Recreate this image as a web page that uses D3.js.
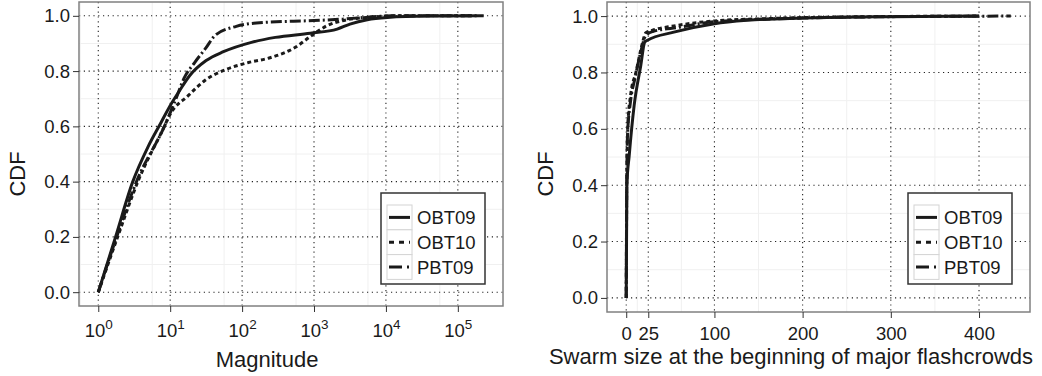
<!DOCTYPE html>
<html>
<head>
<meta charset="utf-8">
<script src="https://cdn.jsdelivr.net/npm/d3@7"></script>
<style>
  body { margin: 0; background: #fff; }
  text { font-family: "Liberation Sans", Arial, Helvetica, sans-serif; fill: #1a1a1a; }
</style>
</head>
<body>
<div id="chart"></div>
<script>
// series names + line styles
let seriesNames = ["OBT09", "OBT10", "PBT09"];

// left panel: magnitude (log x) vs CDF
let magOBT09 = [1, 1.74, 3.02, 4.9, 7.5, 9.8, 13.5, 18.6, 31.6, 55, 135, 290, 890, 2100, 3160, 5500, 10500, 38000, 229000];
let cdfMagOBT09 = [0, 0.2, 0.4, 0.525, 0.615, 0.671, 0.729, 0.783, 0.838, 0.87, 0.904, 0.922, 0.937, 0.952, 0.97, 0.986, 0.994, 0.999, 1.0];
let magOBT10 = [1, 1.86, 3.55, 8.3, 9.8, 17.8, 30, 63, 123, 250, 550, 890, 1510, 2880, 5500, 15800, 160000];
let cdfMagOBT10 = [0, 0.2, 0.4, 0.6, 0.64, 0.711, 0.765, 0.808, 0.831, 0.849, 0.886, 0.925, 0.964, 0.986, 0.994, 1.0, 1.0];
let magPBT09 = [1, 1.8, 3.4, 8.3, 11.5, 15.8, 21.9, 31.6, 41.7, 83, 158, 1000, 2500, 4470, 12600, 200000];
let cdfMagPBT09 = [0, 0.2, 0.4, 0.6, 0.687, 0.777, 0.831, 0.885, 0.928, 0.962, 0.974, 0.983, 0.988, 0.993, 1.0, 1.0];

// right panel: swarm size vs CDF
let swarmOBT09 = [0, 0.7, 3.4, 9, 16.5, 21, 24, 54, 100, 137, 200, 300, 400];
let cdfSwarmOBT09 = [0, 0.4, 0.506, 0.683, 0.825, 0.908, 0.914, 0.943, 0.973, 0.985, 0.993, 0.998, 1.0];
let swarmOBT10 = [0, 0.5, 1, 2, 5, 11, 18, 22, 30, 54, 100, 150, 250, 400];
let cdfSwarmOBT10 = [0, 0.35, 0.5, 0.62, 0.72, 0.8, 0.9, 0.94, 0.95, 0.965, 0.983, 0.99, 0.997, 1.0];
let swarmPBT09 = [0, 0.6, 1.5, 5, 10, 17, 22, 30, 60, 100, 200, 300, 436];
let cdfSwarmPBT09 = [0, 0.4, 0.58, 0.7, 0.78, 0.88, 0.93, 0.945, 0.96, 0.98, 0.993, 0.998, 1.0];

// ticks
let yTicks = [0, 0.2, 0.4, 0.6, 0.8, 1.0];
let yMinor = [0.1, 0.3, 0.5, 0.7, 0.9];
let magTicks = [1, 10, 100, 1000, 10000, 100000];
let magExps = ["0", "1", "2", "3", "4", "5"];
let magMinor = [-0.25, 0.75, 1.75, 2.75, 3.75, 4.75].map(e => Math.pow(10, e));
let swarmTicks = [0, 25, 100, 200, 300, 400];
let swarmMinor = [12.5, 62.5, 150, 250, 350];

let dashes = { OBT09: null, OBT10: "4,3", PBT09: "11,3,2,3" };

let svgWidth = 1042;
let svgHeight = 376;

let svg = d3.select("#chart")
  .append("svg")
  .attr("width", svgWidth)
  .attr("height", svgHeight);

function drawPanel(p) {
  let width = p.x1 - p.x0;
  let height = p.y1 - p.y0;

  let g = svg.append("g")
    .attr("transform", `translate(${p.x0}, ${p.y0})`);

  let x = p.xScale.range([0, width]);
  let y = d3.scaleLinear().domain([-0.05, 1.05]).range([height, 0]);

  // minor grid
  g.selectAll(".vminor").data(p.minor).enter().append("line")
    .attr("x1", d => x(d)).attr("x2", d => x(d))
    .attr("y1", 0).attr("y2", height)
    .attr("stroke", "#f0f0f0").attr("stroke-width", 1);
  g.selectAll(".hminor").data(yMinor).enter().append("line")
    .attr("x1", 0).attr("x2", width)
    .attr("y1", d => y(d)).attr("y2", d => y(d))
    .attr("stroke", "#f0f0f0").attr("stroke-width", 1);

  // major grid, dotted
  g.selectAll(".vmajor").data(p.ticks).enter().append("line")
    .attr("x1", d => x(d)).attr("x2", d => x(d))
    .attr("y1", 0).attr("y2", height)
    .attr("stroke", "#222").attr("stroke-width", 1.1)
    .attr("stroke-dasharray", "1.2,3.6");
  g.selectAll(".hmajor").data(yTicks).enter().append("line")
    .attr("x1", 0).attr("x2", width)
    .attr("y1", d => y(d)).attr("y2", d => y(d))
    .attr("stroke", "#222").attr("stroke-width", 1.1)
    .attr("stroke-dasharray", "1.2,3.6");

  // curves
  let line = d3.line()
    .x(d => x(d[0]))
    .y(d => y(d[1]))
    .curve(d3.curveMonotoneX);

  p.series.forEach((s, i) => {
    let pts = s.xs.map((v, j) => [v, s.cdf[j]]);
    g.append("path")
      .datum(pts)
      .attr("fill", "none")
      .attr("stroke", "#1a1a1a")
      .attr("stroke-width", 3)
      .attr("stroke-dasharray", dashes[seriesNames[i]])
      .attr("d", line);
  });

  // panel border
  g.append("rect")
    .attr("width", width).attr("height", height)
    .attr("fill", "none")
    .attr("stroke", "#808080").attr("stroke-width", 1.5);

  // axes
  let leftAxis = d3.axisLeft(y).tickValues(yTicks).tickSize(6).tickPadding(3)
    .tickFormat(d3.format(".1f"));
  let ly = g.append("g").call(leftAxis);
  ly.select(".domain").remove();
  ly.selectAll("line").attr("stroke", "#333");
  ly.selectAll("text").attr("font-size", "18.5px").attr("fill", "#1a1a1a");

  let bottomAxis = d3.axisBottom(x).tickValues(p.ticks).tickSize(6).tickPadding(p.tickPad)
    .tickFormat(p.fmt ? () => "" : d => d);
  let bx = g.append("g").attr("transform", `translate(0, ${height})`).call(bottomAxis);
  bx.select(".domain").remove();
  bx.selectAll("line").attr("stroke", "#333");
  bx.selectAll("text").attr("font-size", "18.5px").attr("fill", "#1a1a1a");
  if (p.fmt) {
    bx.selectAll("text").each(function(d, i) {
      let t = d3.select(this);
      t.append("tspan").text("10");
      t.append("tspan").attr("dy", "-0.6em").attr("font-size", "13.5px").text(magExps[i]);
    });
  }

  // axis titles
  svg.append("text")
    .attr("transform", `translate(${p.yTitleX}, 174) rotate(-90)`)
    .attr("text-anchor", "middle")
    .attr("font-size", "22px")
    .text("CDF");
  svg.append("text")
    .attr("x", p.xTitleX).attr("y", p.xTitleY)
    .attr("text-anchor", "middle")
    .attr("font-size", "22px")
    .text(p.xTitle);

  // legend
  let lg = svg.append("g").attr("transform", `translate(${p.legX}, 193)`);
  lg.append("rect")
    .attr("width", 104).attr("height", 91)
    .attr("fill", "#fff").attr("stroke", "#333").attr("stroke-width", 1.5);
  seriesNames.forEach((name, i) => {
    let row = lg.append("g").attr("transform", `translate(6, ${12 + i * 24.8})`);
    row.append("rect")
      .attr("width", 25).attr("height", 24.8)
      .attr("fill", "#fff").attr("stroke", "#d4d4d4").attr("stroke-width", 1);
    row.append("line")
      .attr("x1", 2).attr("x2", 23).attr("y1", 12.4).attr("y2", 12.4)
      .attr("stroke", "#1a1a1a").attr("stroke-width", 3)
      .attr("stroke-dasharray", name === "OBT10" ? "5,5" : (name === "PBT09" ? "13,5,2,5" : null));
    row.append("text")
      .attr("x", 30).attr("y", 19)
      .attr("font-size", "18.5px")
      .text(name);
  });
}

drawPanel({
  x0: 79, x1: 503, y0: 2, y1: 306,
  xScale: d3.scaleLog().domain([Math.pow(10, -0.268), Math.pow(10, 5.628)]),
  ticks: magTicks, minor: magMinor, fmt: true, tickPad: 12,
  series: [
    { xs: magOBT09, cdf: cdfMagOBT09 },
    { xs: magOBT10, cdf: cdfMagOBT10 },
    { xs: magPBT09, cdf: cdfMagPBT09 }
  ],
  yTitleX: 25, xTitleX: 267, xTitleY: 367, xTitle: "Magnitude", legX: 381
});

drawPanel({
  x0: 607, x1: 1030, y0: 2, y1: 312,
  xScale: d3.scaleLinear().domain([-21.8, 457.8]),
  ticks: swarmTicks, minor: swarmMinor, fmt: false, tickPad: 9,
  series: [
    { xs: swarmOBT09, cdf: cdfSwarmOBT09 },
    { xs: swarmOBT10, cdf: cdfSwarmOBT10 },
    { xs: swarmPBT09, cdf: cdfSwarmPBT09 }
  ],
  yTitleX: 553, xTitleX: 791, xTitleY: 364, xTitle: "Swarm size at the beginning of major flashcrowds", legX: 908
});
</script>
</body>
</html>
